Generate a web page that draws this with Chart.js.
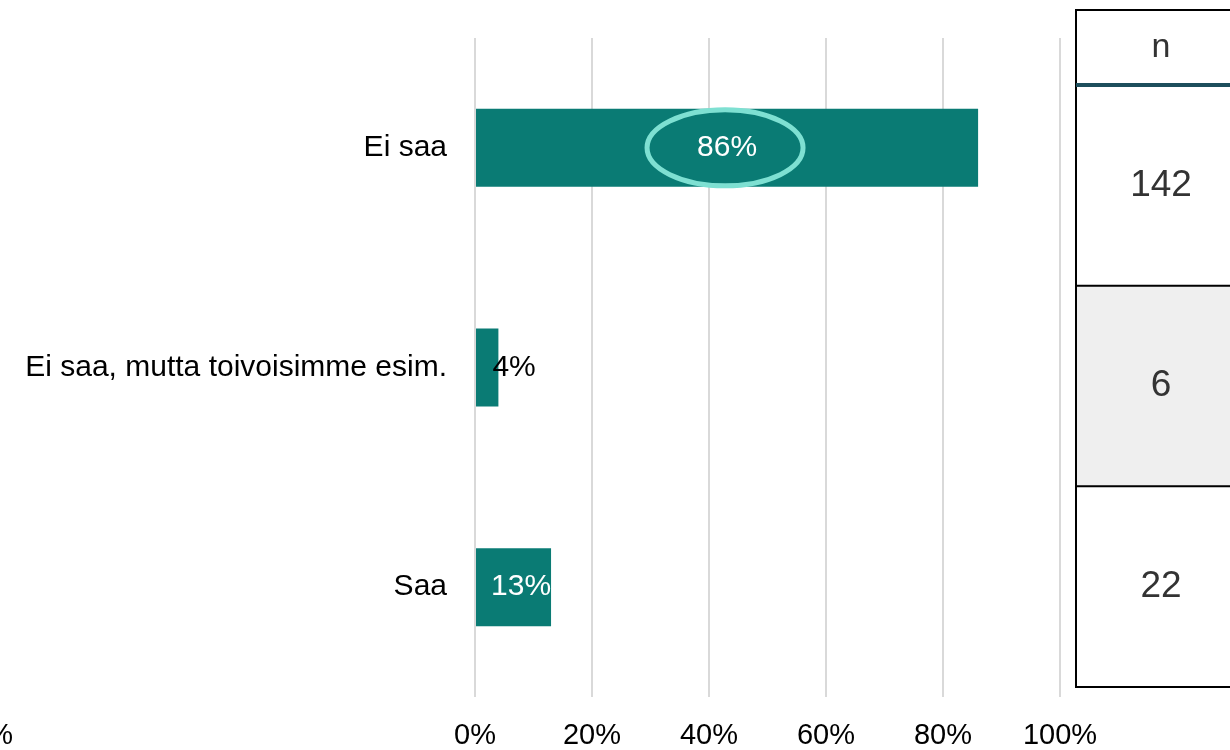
<!DOCTYPE html>
<html>
<head>
<meta charset="utf-8">
<script src="https://cdn.jsdelivr.net/npm/chart.js@4.4.0/dist/chart.umd.min.js"></script>
<style>
  html, body { margin: 0; padding: 0; background: #fff; }
  #wrap { width: 1230px; height: 750px; position: relative; overflow: hidden; }
</style>
</head>
<body>
<div id="wrap"><canvas id="kaavio" width="1230" height="750"></canvas></div>
<script>
// --- data ---
const kategoriat = ['Ei saa', 'Ei saa, mutta toivoisimme esim.', 'Saa'];
const osuudet = [86, 4, 13];
const nMaarat = [142, 6, 22];
const tikit = [0, 20, 40, 60, 80, 100];

const vihrea = '#0a7b74';
const kehys = '#7ee0d2';
const fontti = '"Liberation Sans", Arial, sans-serif';

// arvot palkkien paalle + rengas ensimmaisen ympari
const arvoPlugin = {
    id: 'arvot',
    afterDatasetsDraw(chart) {
        const ctx = chart.ctx;
        const meta = chart.getDatasetMeta(0);
        ctx.save();
        ctx.font = '30px ' + fontti;
        ctx.textBaseline = 'middle';
        meta.data.forEach((bar, i) => {
            const txt = osuudet[i] + '%';
            const w = ctx.measureText(txt).width;
            const alku = bar.base;
            const loppu = bar.x;
            const leveys = loppu - alku;
            if (w > leveys) {
                ctx.fillStyle = '#000';
                ctx.textAlign = 'left';
                ctx.fillText(txt, loppu - 6, bar.y);
            } else if (w > leveys * 0.6) {
                ctx.fillStyle = '#fff';
                ctx.textAlign = 'right';
                ctx.fillText(txt, loppu, bar.y);
            } else {
                ctx.fillStyle = '#fff';
                ctx.textAlign = 'center';
                ctx.fillText(txt, (alku + loppu) / 2, bar.y);
            }
        });
        // rengas suurimman arvon ympari
        const eka = meta.data[0];
        ctx.strokeStyle = kehys;
        ctx.lineWidth = 5;
        ctx.beginPath();
        ctx.ellipse((eka.base + eka.x) / 2 - 2, eka.y, 78, 38, 0, 0, Math.PI * 2);
        ctx.stroke();
        ctx.restore();
    }
};

// n-taulukko oikealla
const taulukkoPlugin = {
    id: 'taulukko',
    afterDraw(chart) {
        const ctx = chart.ctx;
        const x0 = 1076, x1 = 1240;
        const yTop = 10, yHead = 85, yBot = 687;
        const rivi = (yBot - yHead) / nMaarat.length;
        ctx.save();
        // harmaa rivi
        ctx.fillStyle = '#efefef';
        ctx.fillRect(x0, yHead + rivi, x1 - x0, rivi);
        // viivat
        ctx.strokeStyle = '#000';
        ctx.lineWidth = 2;
        ctx.beginPath();
        ctx.moveTo(x1, yTop); ctx.lineTo(x0, yTop); ctx.lineTo(x0, yBot); ctx.lineTo(x1, yBot);
        for (let i = 1; i < nMaarat.length; i++) {
            ctx.moveTo(x0, yHead + rivi * i);
            ctx.lineTo(x1, yHead + rivi * i);
        }
        ctx.stroke();
        ctx.strokeStyle = '#1d4e5c';
        ctx.lineWidth = 4;
        ctx.beginPath();
        ctx.moveTo(x0, yHead); ctx.lineTo(x1, yHead);
        ctx.stroke();
        // tekstit
        ctx.fillStyle = '#333';
        ctx.textAlign = 'center';
        ctx.textBaseline = 'middle';
        ctx.font = '34px ' + fontti;
        ctx.fillText('n', 1161, (yTop + yHead) / 2);
        ctx.font = '37px ' + fontti;
        nMaarat.forEach((n, i) => {
            ctx.fillText(String(n), 1161, yHead + rivi * i + rivi / 2);
        });
        // leikkautunut nimio vasemmassa alakulmassa
        ctx.fillStyle = '#000';
        ctx.font = '29px ' + fontti;
        ctx.textAlign = 'right';
        ctx.fillText('0%', 13, 736);
        ctx.restore();
    }
};

new Chart(document.getElementById('kaavio'), {
    type: 'bar',
    data: {
        labels: kategoriat,
        datasets: [{
            data: osuudet,
            backgroundColor: vihrea,
            borderWidth: 0,
            categoryPercentage: 1,
            barPercentage: 0.355
        }]
    },
    options: {
        indexAxis: 'y',
        responsive: false,
        animation: false,
        layout: { padding: { top: 30, right: 170, left: 0, bottom: 0 } },
        plugins: {
            legend: { display: false },
            tooltip: { enabled: false }
        },
        scales: {
            x: {
                min: 0,
                max: 100,
                afterBuildTicks: s => { s.ticks = tikit.map(v => ({ value: v })); },
                afterFit: s => { s.height = 53; },
                grid: { color: '#d9d9d9', lineWidth: 2, drawTicks: false },
                border: { display: false },
                ticks: {
                    padding: 22,
                    color: '#000',
                    font: { family: fontti, size: 29 },
                    callback: v => v + '%'
                }
            },
            y: {
                afterFit: s => { s.width = 475; },
                grid: { display: false },
                border: { display: false },
                ticks: {
                    padding: 20,
                    color: '#000',
                    font: { family: fontti, size: 30 }
                }
            }
        }
    },
    plugins: [arvoPlugin, taulukkoPlugin]
});
</script>
</body>
</html>
